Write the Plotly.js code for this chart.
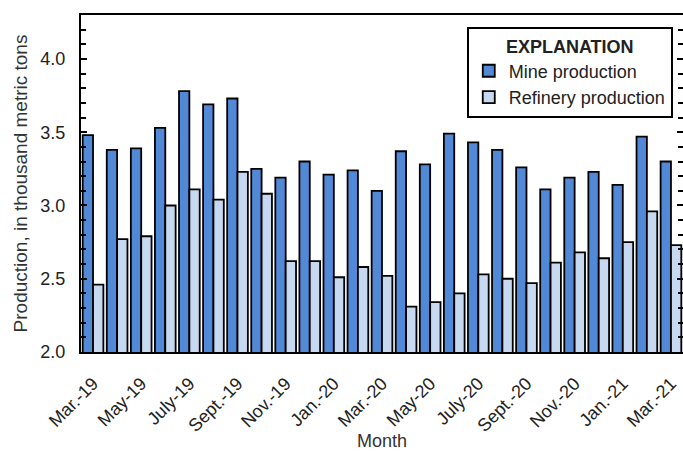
<!DOCTYPE html>
<html>
<head>
<meta charset="utf-8">
<script src="https://cdn.plot.ly/plotly-3.0.1.min.js"></script>
<style>html,body{margin:0;padding:0;background:#fff;}#chart{width:683px;height:451px;}</style>
</head>
<body>
<div id="chart"></div>
<script>
var months = ["Mar.-19","Apr.-19","May-19","June-19","July-19","Aug.-19","Sept.-19","Oct.-19","Nov.-19","Dec.-19",
  "Jan.-20","Feb.-20","Mar.-20","Apr.-20","May-20","June-20","July-20","Aug.-20","Sept.-20","Oct.-20","Nov.-20","Dec.-20",
  "Jan.-21","Feb.-21","Mar.-21"];
var mine = [3.48,3.38,3.39,3.53,3.78,3.69,3.73,3.25,3.19,3.30,3.21,3.24,3.10,3.37,3.28,3.49,3.43,3.38,3.26,3.11,3.19,3.23,3.14,3.47,3.30];
var refinery = [2.46,2.77,2.79,3.00,3.11,3.04,3.23,3.08,2.62,2.62,2.51,2.58,2.52,2.31,2.34,2.40,2.53,2.50,2.47,2.61,2.68,2.64,2.75,2.96,2.73];
var tickLabels = ["Mar.-19","May-19","July-19","Sept.-19","Nov.-19","Jan.-20","Mar.-20","May-20","July-20","Sept.-20","Nov.-20","Jan.-21","Mar.-21"];

var FONT = "'Liberation Sans Narrow','Arial Narrow',Arial,sans-serif";
var traces = [
  {type:'bar', name:'Mine production', x:months, y:mine,
   marker:{color:'#5189d6', line:{color:'#000', width:1.8}}},
  {type:'bar', name:'Refinery production', x:months, y:refinery,
   marker:{color:'#c6d9f1', line:{color:'#000', width:1.8}}}
];
var layout = {
  width:683, height:451,
  margin:{l:81, r:0, t:15, b:99},
  paper_bgcolor:'#fff', plot_bgcolor:'#fff',
  font:{family:FONT, size:17, color:'#222'},
  barmode:'group', bargap:0.14, bargroupgap:0,
  showlegend:true,
  legend:{x:0.983, xanchor:'right', y:0.964, yanchor:'top',
    bordercolor:'#000', borderwidth:2, bgcolor:'#fff',
    font:{family:FONT, size:18, color:'#222'},
    title:{text:'<b>EXPLANATION</b>', side:'top center', font:{family:FONT, size:18, color:'#222'}},
    itemwidth:30, tracegroupgap:0},
  xaxis:{type:'category', range:[-0.5,24.5], tickmode:'array', tickvals:tickLabels, ticktext:tickLabels,
    tickangle:-45, ticks:'', ticklabelstandoff:12, showgrid:false, zeroline:false,
    showline:true, linecolor:'#000', linewidth:2, mirror:true,
    tickfont:{family:FONT, size:18, color:'#222'},
    title:{text:'Month', font:{family:FONT, size:18, color:'#333'}, standoff:10}},
  yaxis:{range:[2.0,4.3], tickvals:[2.0,2.5,3.0,3.5,4.0], tickformat:'.1f',
    ticks:'inside', ticklen:6, tickwidth:2, tickcolor:'#000', ticklabelstandoff:10,
    minor:{dtick:0.1, ticks:'inside', ticklen:5, tickwidth:2, tickcolor:'#000'},
    showgrid:false, zeroline:false, showline:true, linecolor:'#000', linewidth:2, mirror:'ticks',
    tickfont:{family:FONT, size:18, color:'#222'},
    title:{text:'Production, in thousand metric tons', font:{family:FONT, size:19, color:'#333'}, standoff:8}}
};
Plotly.newPlot('chart', traces, layout, {displayModeBar:false, staticPlot:true});
</script>
</body>
</html>
